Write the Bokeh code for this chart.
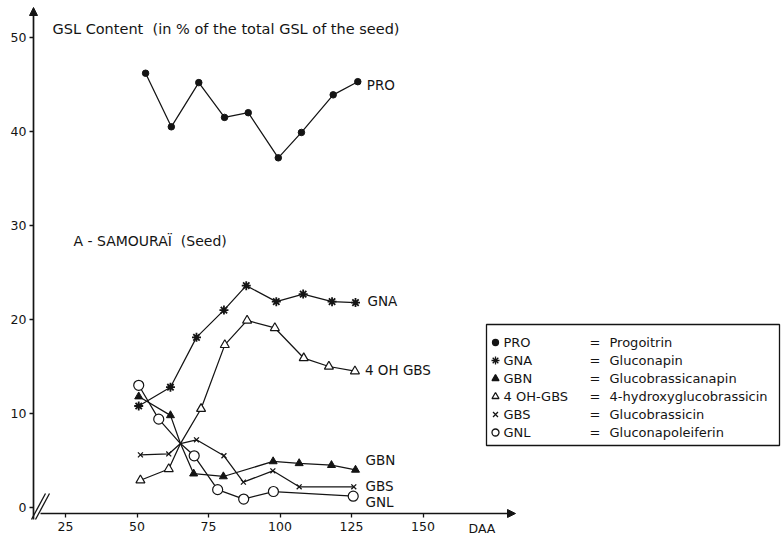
from bokeh.plotting import figure
from bokeh.models import Range1d, LinearAxis, Arrow, NormalHead, FixedTicker
from bokeh.embed import file_html
from bokeh.resources import INLINE
from bokeh.core.properties import value

# ---------------- data ----------------
pro_x = [53.0, 62.0, 71.6, 80.6, 88.9, 99.4, 107.5, 118.6, 127.2]
pro_y = [46.2, 40.5, 45.2, 41.5, 42.0, 37.2, 39.9, 43.9, 45.3]

gna_x = [50.6, 61.7, 70.8, 80.4, 88.2, 98.7, 108.1, 118.2, 126.4]
gna_y = [10.8, 12.8, 18.1, 21.0, 23.6, 21.9, 22.7, 21.9, 21.8]

ohgbs_x = [51.2, 61.1, 65.2, 72.4, 80.7, 88.5, 98.2, 108.3, 117.1, 126.2]
ohgbs_y = [2.9, 4.1, 6.8, 10.5, 17.3, 19.9, 19.1, 15.9, 15.0, 14.5]
ohgbs_mk = [1, 1, 0, 1, 1, 1, 1, 1, 1, 1]

gbn_x = [50.6, 61.7, 65.2, 69.8, 80.2, 97.6, 106.7, 118.0, 126.4]
gbn_y = [11.8, 9.8, 6.8, 3.6, 3.3, 4.9, 4.7, 4.5, 4.0]
gbn_mk = [1, 1, 0, 1, 1, 1, 1, 1, 1]

gbs_x = [51.2, 61.1, 65.2, 70.8, 80.4, 87.2, 97.5, 106.7, 125.8]
gbs_y = [5.6, 5.7, 6.8, 7.2, 5.5, 2.7, 3.9, 2.2, 2.2]
gbs_mk = [1, 1, 0, 1, 1, 1, 1, 1, 1]

gnl_x = [50.6, 57.6, 65.2, 70.0, 78.2, 87.3, 97.7, 125.6]
gnl_y = [13.0, 9.4, 6.8, 5.5, 1.9, 0.9, 1.7, 1.2]
gnl_mk = [1, 1, 0, 1, 1, 1, 1, 1]

x_ticks = [25, 50, 75, 100, 125, 150]
y_ticks = [0, 10, 20, 30, 40, 50]

series_labels = ["PRO", "GNA", "4 OH GBS", "GBN", "GBS", "GNL"]
legend_abbr = ["PRO", "GNA", "GBN", "4 OH-GBS", "GBS", "GNL"]
legend_names = ["Progoitrin", "Gluconapin", "Glucobrassicanapin",
                "4-hydroxyglucobrassicin", "Glucobrassicin", "Gluconapoleiferin"]

title_text = "GSL Content\u00a0 (in % of the total GSL of the seed)"
sub_text = "A - SAMOURAÏ\u00a0 (Seed)"
x_name = "DAA"

# ---------------- layout (pixel helpers) ----------------
W, H = 783, 539
XPX25, XPPU = 65.0, 2.86
Y0PX, YPPU = 507.0, 9.4


def X(px):
    return 25 + (px - XPX25) / XPPU


def Y(py):
    return (Y0PX - py) / YPPU


def DX(dpx):
    return dpx / XPPU


def DY(dpx):
    return dpx / YPPU


x0, x1 = X(0), X(W)
y0, y1 = Y(H), Y(0)
AX_X = X(33)     # y-axis position
AX_Y = Y(513)    # x-axis position

FONT = value("DejaVu Sans")
INK = "#141414"

p = figure(width=W, height=H, x_range=Range1d(x0, x1), y_range=Range1d(y0, y1),
           output_backend="svg", toolbar_location=None,
           x_axis_location=None, y_axis_location=None,
           min_border_left=0, min_border_right=0,
           min_border_top=0, min_border_bottom=0)
p.outline_line_color = None
p.xgrid.visible = False
p.ygrid.visible = False
p.background_fill_color = "white"
p.border_fill_color = "white"

yax = LinearAxis(ticker=FixedTicker(ticks=y_ticks), fixed_location=AX_X)
yax.axis_line_color = None
yax.major_tick_line_color = INK
yax.major_tick_line_width = 1.3
yax.major_tick_out = 4
yax.major_tick_in = 0
yax.minor_tick_line_color = None
yax.major_label_standoff = 3
yax.major_label_text_font = "DejaVu Sans"
yax.major_label_text_font_size = "12.5px"
yax.major_label_text_color = INK
p.add_layout(yax, "left")

xax = LinearAxis(ticker=FixedTicker(ticks=x_ticks), fixed_location=AX_Y)
xax.axis_line_color = None
xax.major_tick_line_color = INK
xax.major_tick_line_width = 1.3
xax.major_tick_out = 4
xax.major_tick_in = 0
xax.minor_tick_line_color = None
xax.major_label_standoff = 4
xax.major_label_text_font = "DejaVu Sans"
xax.major_label_text_font_size = "12.5px"
xax.major_label_text_color = INK
p.add_layout(xax, "below")

# axis lines with arrow heads
p.add_layout(Arrow(end=NormalHead(size=8, fill_color=INK, line_color=INK),
                   x_start=X(40), y_start=AX_Y, x_end=X(515), y_end=AX_Y,
                   line_color=INK, line_width=1.5))
p.add_layout(Arrow(end=NormalHead(size=8, fill_color=INK, line_color=INK),
                   x_start=AX_X, y_start=Y(519), x_end=AX_X, y_end=Y(7),
                   line_color=INK, line_width=1.7))
# axis break
for off in (0, 4):
    p.add_layout(Arrow(end=None, x_start=X(31 + off), y_start=Y(519),
                       x_end=X(45 + off), y_end=Y(493),
                       line_color=INK, line_width=1.3))


def pick(vals, mask):
    return [v for v, m in zip(vals, mask) if m]


LW = 1.25
# PRO
p.line(pro_x, pro_y, line_color=INK, line_width=LW)
p.scatter(pro_x, pro_y, marker="circle", size=6.5, fill_color=INK, line_color=INK)
# GNA
p.line(gna_x, gna_y, line_color=INK, line_width=LW)
p.scatter(gna_x, gna_y, marker="asterisk", size=9, line_color=INK, line_width=1.8)
# 4 OH GBS
p.line(ohgbs_x, ohgbs_y, line_color=INK, line_width=LW)
p.scatter(pick(ohgbs_x, ohgbs_mk), pick(ohgbs_y, ohgbs_mk), marker="triangle", size=9,
          fill_color="white", line_color=INK, line_width=1.2)
# GBN
p.line(gbn_x, gbn_y, line_color=INK, line_width=LW)
p.scatter(pick(gbn_x, gbn_mk), pick(gbn_y, gbn_mk), marker="triangle", size=8,
          fill_color=INK, line_color=INK)
# GBS
p.line(gbs_x, gbs_y, line_color=INK, line_width=LW)
p.scatter(pick(gbs_x, gbs_mk), pick(gbs_y, gbs_mk), marker="x", size=7,
          line_color=INK, line_width=1.3)
# GNL
p.line(gnl_x, gnl_y, line_color=INK, line_width=LW)
p.scatter(pick(gnl_x, gnl_mk), pick(gnl_y, gnl_mk), marker="circle", size=10,
          fill_color="white", line_color=INK, line_width=1.2)

# series end labels (anchored to last points)
lab_x = [pro_x[-1] + DX(9), gna_x[-1] + DX(12), ohgbs_x[-1] + DX(10),
         gbn_x[-1] + DX(10), gbn_x[-1] + DX(10), gbn_x[-1] + DX(10)]
lab_y = [pro_y[-1] - DY(3), gna_y[-1] + DY(2), ohgbs_y[-1] + DY(1),
         gbn_y[-1] + DY(10), gbs_y[-1] + DY(1), gnl_y[-1] - DY(6)]
p.text(lab_x, lab_y, text=series_labels, text_font=FONT, text_font_size="13.5px",
       text_baseline="middle", text_align="left", text_color=INK)

# titles
p.text([X(52)], [Y(28)], text=[title_text], text_font=FONT, text_font_size="14.5px",
       text_baseline="middle", text_color=INK)
p.text([X(73)], [Y(240)], text=[sub_text], text_font=FONT, text_font_size="14px",
       text_baseline="middle", text_color=INK)
p.text([X(468)], [Y(528)], text=[x_name], text_font=FONT, text_font_size="12.5px",
       text_baseline="middle", text_color=INK)

# legend box
LB_L, LB_R, LB_T, LB_B = 486, 779, 324, 445
p.quad(left=[X(LB_L)], right=[X(LB_R)], top=[Y(LB_T)], bottom=[Y(LB_B)],
       fill_color=None, line_color=INK, line_width=1.3)
rows_y = [Y(342 + 18 * i) for i in range(6)]
sym_x = X(495)
markers = ["circle", "asterisk", "triangle", "triangle", "x", "circle"]
fills = [INK, None, INK, "white", None, "white"]
sizes = [6, 8, 7, 7, 7, 7]
for mk, fc, sz, yy in zip(markers, fills, sizes, rows_y):
    p.scatter([sym_x], [yy], marker=mk, size=sz, fill_color=fc, line_color=INK, line_width=1.3)
p.text([X(503)] * 6, rows_y, text=legend_abbr, text_font=FONT, text_font_size="13px",
       text_baseline="middle", text_color=INK)
p.text([X(589)] * 6, rows_y, text=["="] * 6, text_font=FONT, text_font_size="13px",
       text_baseline="middle", text_color=INK)
p.text([X(609)] * 6, rows_y, text=legend_names, text_font=FONT, text_font_size="13px",
       text_baseline="middle", text_color=INK)

open("out.html", "w").write(file_html(p, INLINE))
